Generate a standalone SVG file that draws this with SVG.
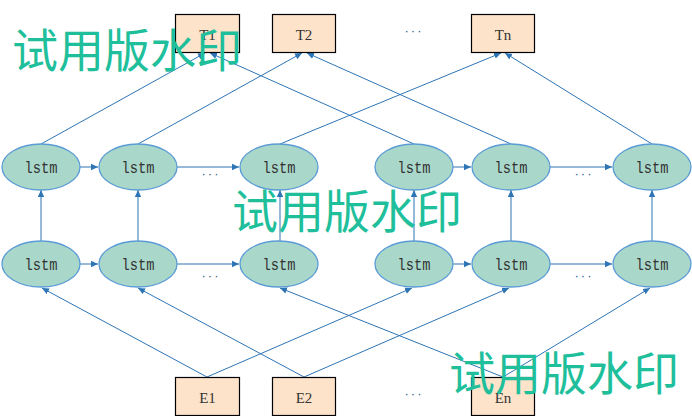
<svg xmlns="http://www.w3.org/2000/svg" width="692" height="416" viewBox="0 0 692 416">
<style>
.box{fill:#fde3ca;stroke:#000;stroke-width:1.2}
.ell{fill:#a9d8ca;stroke:#5b9bd5;stroke-width:1.3}
.lbl{font-family:"Liberation Serif",serif;font-size:15px;fill:#333;text-anchor:middle}
.ltxt{font-family:"Liberation Mono",monospace;font-size:16px;fill:#333;text-anchor:middle}
.dots{font-family:"Liberation Sans",sans-serif;font-size:13px;fill:#2e5f8a;text-anchor:middle;letter-spacing:2px}
.c{stroke:#2e75b6;stroke-width:1;fill:none;marker-end:url(#ah)}
.wm{font-family:"Noto Sans CJK SC",sans-serif;font-size:46px;fill:#1fbf9c}
</style>
<defs>
<marker id="ah" markerWidth="8" markerHeight="8" refX="7" refY="4" orient="auto" markerUnits="userSpaceOnUse">
<path d="M0,0.8 L7,4 L0,7.2 Z" fill="#2e75b6"/>
</marker>
</defs>
<g id="connectors">
<line class="c" x1="80" y1="167" x2="98" y2="167"/>
<line class="c" x1="177" y1="167" x2="239" y2="167"/>
<line class="c" x1="453" y1="167" x2="471" y2="167"/>
<line class="c" x1="550" y1="167" x2="612" y2="167"/>
<line class="c" x1="80" y1="264" x2="98" y2="264"/>
<line class="c" x1="177" y1="264" x2="239" y2="264"/>
<line class="c" x1="453" y1="264" x2="471" y2="264"/>
<line class="c" x1="550" y1="264" x2="612" y2="264"/>
<line class="c" x1="41" y1="241" x2="41" y2="190"/>
<line class="c" x1="138" y1="241" x2="138" y2="190"/>
<line class="c" x1="280" y1="241" x2="280" y2="190"/>
<line class="c" x1="414" y1="241" x2="414" y2="190"/>
<line class="c" x1="511" y1="241" x2="511" y2="190"/>
<line class="c" x1="652" y1="241" x2="652" y2="190"/>
<line class="c" x1="41" y1="144" x2="205" y2="53"/>
<line class="c" x1="414" y1="144" x2="210" y2="53"/>
<line class="c" x1="138" y1="144" x2="302" y2="53"/>
<line class="c" x1="511" y1="144" x2="307" y2="53"/>
<line class="c" x1="280" y1="144" x2="501" y2="53"/>
<line class="c" x1="652" y1="144" x2="505" y2="53"/>
<line class="c" x1="207" y1="377" x2="42" y2="288"/>
<line class="c" x1="207" y1="377" x2="412" y2="288"/>
<line class="c" x1="304" y1="377" x2="138" y2="288"/>
<line class="c" x1="304" y1="377" x2="509" y2="288"/>
<line class="c" x1="503" y1="377" x2="280" y2="288"/>
<line class="c" x1="503" y1="377" x2="650" y2="288"/>
</g>
<g id="T1"><rect class="box" x="175.5" y="14.5" width="64" height="38"/><text class="lbl" x="207.5" y="39.5">T1</text></g>
<g id="T2"><rect class="box" x="272.5" y="14.5" width="63" height="38"/><text class="lbl" x="304" y="39.5">T2</text></g>
<g id="Tn"><rect class="box" x="471.5" y="14.5" width="63" height="38"/><text class="lbl" x="503" y="39.5">Tn</text></g>
<g id="E1"><rect class="box" x="175.5" y="377.5" width="64" height="38"/><text class="lbl" x="207.5" y="402.5">E1</text></g>
<g id="E2"><rect class="box" x="272.5" y="377.5" width="63" height="38"/><text class="lbl" x="304" y="402.5">E2</text></g>
<g id="En"><rect class="box" x="471.5" y="377.5" width="63" height="38"/><text class="lbl" x="503" y="402.5">En</text></g>
<g id="top1"><ellipse class="ell" cx="41" cy="167" rx="39" ry="23"/><text class="ltxt" x="41" y="173" textLength="33" lengthAdjust="spacingAndGlyphs">lstm</text></g>
<g id="top2"><ellipse class="ell" cx="138" cy="167" rx="39" ry="23"/><text class="ltxt" x="138" y="173" textLength="33" lengthAdjust="spacingAndGlyphs">lstm</text></g>
<g id="top3"><ellipse class="ell" cx="279" cy="167" rx="39" ry="23"/><text class="ltxt" x="279" y="173" textLength="33" lengthAdjust="spacingAndGlyphs">lstm</text></g>
<g id="top4"><ellipse class="ell" cx="414" cy="167" rx="39" ry="23"/><text class="ltxt" x="414" y="173" textLength="33" lengthAdjust="spacingAndGlyphs">lstm</text></g>
<g id="top5"><ellipse class="ell" cx="511" cy="167" rx="39" ry="23"/><text class="ltxt" x="511" y="173" textLength="33" lengthAdjust="spacingAndGlyphs">lstm</text></g>
<g id="top6"><ellipse class="ell" cx="652" cy="167" rx="39" ry="23"/><text class="ltxt" x="652" y="173" textLength="33" lengthAdjust="spacingAndGlyphs">lstm</text></g>
<g id="bot1"><ellipse class="ell" cx="41" cy="264" rx="39" ry="23"/><text class="ltxt" x="41" y="270" textLength="33" lengthAdjust="spacingAndGlyphs">lstm</text></g>
<g id="bot2"><ellipse class="ell" cx="138" cy="264" rx="39" ry="23"/><text class="ltxt" x="138" y="270" textLength="33" lengthAdjust="spacingAndGlyphs">lstm</text></g>
<g id="bot3"><ellipse class="ell" cx="279" cy="264" rx="39" ry="23"/><text class="ltxt" x="279" y="270" textLength="33" lengthAdjust="spacingAndGlyphs">lstm</text></g>
<g id="bot4"><ellipse class="ell" cx="414" cy="264" rx="39" ry="23"/><text class="ltxt" x="414" y="270" textLength="33" lengthAdjust="spacingAndGlyphs">lstm</text></g>
<g id="bot5"><ellipse class="ell" cx="511" cy="264" rx="39" ry="23"/><text class="ltxt" x="511" y="270" textLength="33" lengthAdjust="spacingAndGlyphs">lstm</text></g>
<g id="bot6"><ellipse class="ell" cx="652" cy="264" rx="39" ry="23"/><text class="ltxt" x="652" y="270" textLength="33" lengthAdjust="spacingAndGlyphs">lstm</text></g>
<g id="dots">
<text class="dots" x="414" y="35">···</text>
<text class="dots" x="414" y="398">···</text>
<text class="dots" x="211" y="178">···</text>
<text class="dots" x="584" y="178">···</text>
<text class="dots" x="211" y="280">···</text>
<text class="dots" x="584" y="280">···</text>
</g>
<g id="watermarks">
<text class="wm" x="12" y="67">试用版水印</text>
<text class="wm" x="232" y="228">试用版水印</text>
<text class="wm" x="449" y="390">试用版水印</text>
</g>
</svg>
